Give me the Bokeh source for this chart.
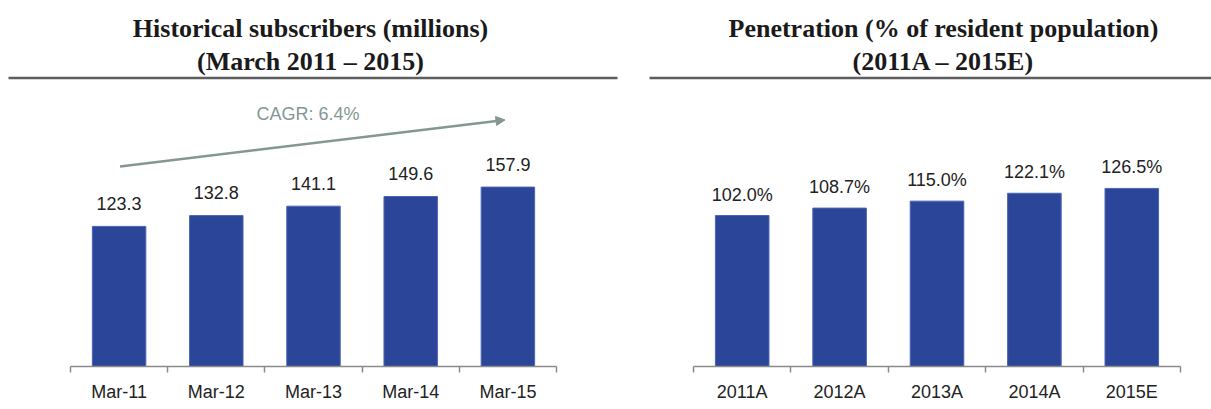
import numpy as np
from bokeh.plotting import figure
from bokeh.models import Range1d, LinearAxis, FixedTicker, Arrow, NormalHead
from bokeh.layouts import column, row
from bokeh.core.properties import value
from bokeh.embed import file_html
from bokeh.resources import INLINE

# ---------------- data ----------------
sub_categories = ["Mar-11", "Mar-12", "Mar-13", "Mar-14", "Mar-15"]
sub_values = [123.3, 132.8, 141.1, 149.6, 157.9]
pen_categories = ["2011A", "2012A", "2013A", "2014A", "2015E"]
pen_values = [102.0, 108.7, 115.0, 122.1, 126.5]
cagr_text = "CAGR:  6.4%"
left_title = ["Historical subscribers (millions)", "(March 2011 \u2013 2015)"]
right_title = ["Penetration (% of resident population)", "(2011A \u2013 2015E)"]

# ---------------- styles ----------------
BAR = "#2b4699"
BAR_EDGE = "#4b64b4"
AXIS = "#8a8a8a"
TXT = "#222222"
ARROW = "#849793"
SANS = "Liberation Sans"
SERIF = "Liberation Serif"

# left y-range / right y-range
left_y = (0, 238.5)
right_y = (-34.5, 210.5)

# CAGR arrow (in left chart's coordinates)
arrow_start = (0.51, 176)
arrow_end = (4.47, 217)
cagr_pos = (2.47, 222)


def make_bar_chart(cats, vals, yr, label_fmt, frame_w, mb_left, mb_right, label_off):
    p = figure(frame_width=frame_w, frame_height=271, output_backend="svg",
               toolbar_location=None,
               x_range=Range1d(0, len(cats)), y_range=Range1d(*yr),
               x_axis_location=None, y_axis_location=None,
               min_border_left=mb_left, min_border_right=mb_right,
               min_border_top=5, min_border_bottom=5)
    p.outline_line_color = None
    p.grid.visible = False
    p.background_fill_color = "white"
    p.border_fill_color = "white"
    xs = np.arange(len(cats)) + 0.5
    p.vbar(x=xs, top=vals, bottom=yr[0], width=0.55, fill_color=BAR,
           line_color=BAR_EDGE, line_width=1)
    p.text(x=xs, y=vals, text=[label_fmt(v) for v in vals], y_offset=label_off,
           text_align="center", text_baseline="middle", text_font=value(SANS),
           text_font_size="18px", text_color=TXT)
    ax = LinearAxis(ticker=FixedTicker(ticks=list(xs), minor_ticks=list(range(len(cats) + 1))))
    ax.major_label_overrides = {float(x): c for x, c in zip(xs, cats)}
    ax.major_tick_line_color = None
    ax.major_tick_out = 0
    ax.major_tick_in = 0
    ax.minor_tick_out = 6
    ax.minor_tick_in = 0
    ax.minor_tick_line_color = AXIS
    ax.minor_tick_line_width = 1.5
    ax.axis_line_color = AXIS
    ax.axis_line_width = 1.5
    ax.major_label_standoff = 9
    ax.major_label_text_font = SANS
    ax.major_label_text_font_size = "18px"
    ax.major_label_text_color = TXT
    p.add_layout(ax, "below")
    return p


p1 = make_bar_chart(sub_categories, sub_values, left_y, lambda v: f"{v:.1f}",
                    486, 70, 77, -23)
p1.add_layout(Arrow(x_start=arrow_start[0], y_start=arrow_start[1],
                    x_end=arrow_end[0], y_end=arrow_end[1],
                    line_color=ARROW, line_width=2.5,
                    end=NormalHead(size=9, fill_color=ARROW, line_color=ARROW)))
p1.text(x=[cagr_pos[0]], y=[cagr_pos[1]], text=[cagr_text], text_align="center",
        text_baseline="middle", text_font=value(SANS), text_font_size="18px",
        text_color=ARROW)

p2 = make_bar_chart(pen_categories, pen_values, right_y, lambda v: f"{v:.1f}%",
                    487, 60, 30, -21)

# ---------------- titles (page-pixel coordinates) ----------------
t = figure(width=1211, height=90, output_backend="svg", toolbar_location=None,
           x_range=Range1d(0, 1211), y_range=Range1d(90, 0),
           x_axis_location=None, y_axis_location=None,
           min_border=0)
t.outline_line_color = None
t.grid.visible = False
title_x = [310, 310, 943, 943]
title_y = [28, 61, 28, 61]
t.text(x=title_x, y=title_y, text=left_title + right_title, text_align="center",
       text_baseline="middle", text_font=value(SERIF), text_font_style="bold",
       text_font_size="26px", text_color="#1a1a1a")
t.segment(x0=[8, 649], y0=[77.5, 77.5], x1=[617, 1211], y1=[77.5, 77.5],
          line_color="#5e5e5e", line_width=2.5)

layout = column(t, row(p1, p2, spacing=0), spacing=0)
open("out.html", "w").write(file_html(layout, INLINE))
